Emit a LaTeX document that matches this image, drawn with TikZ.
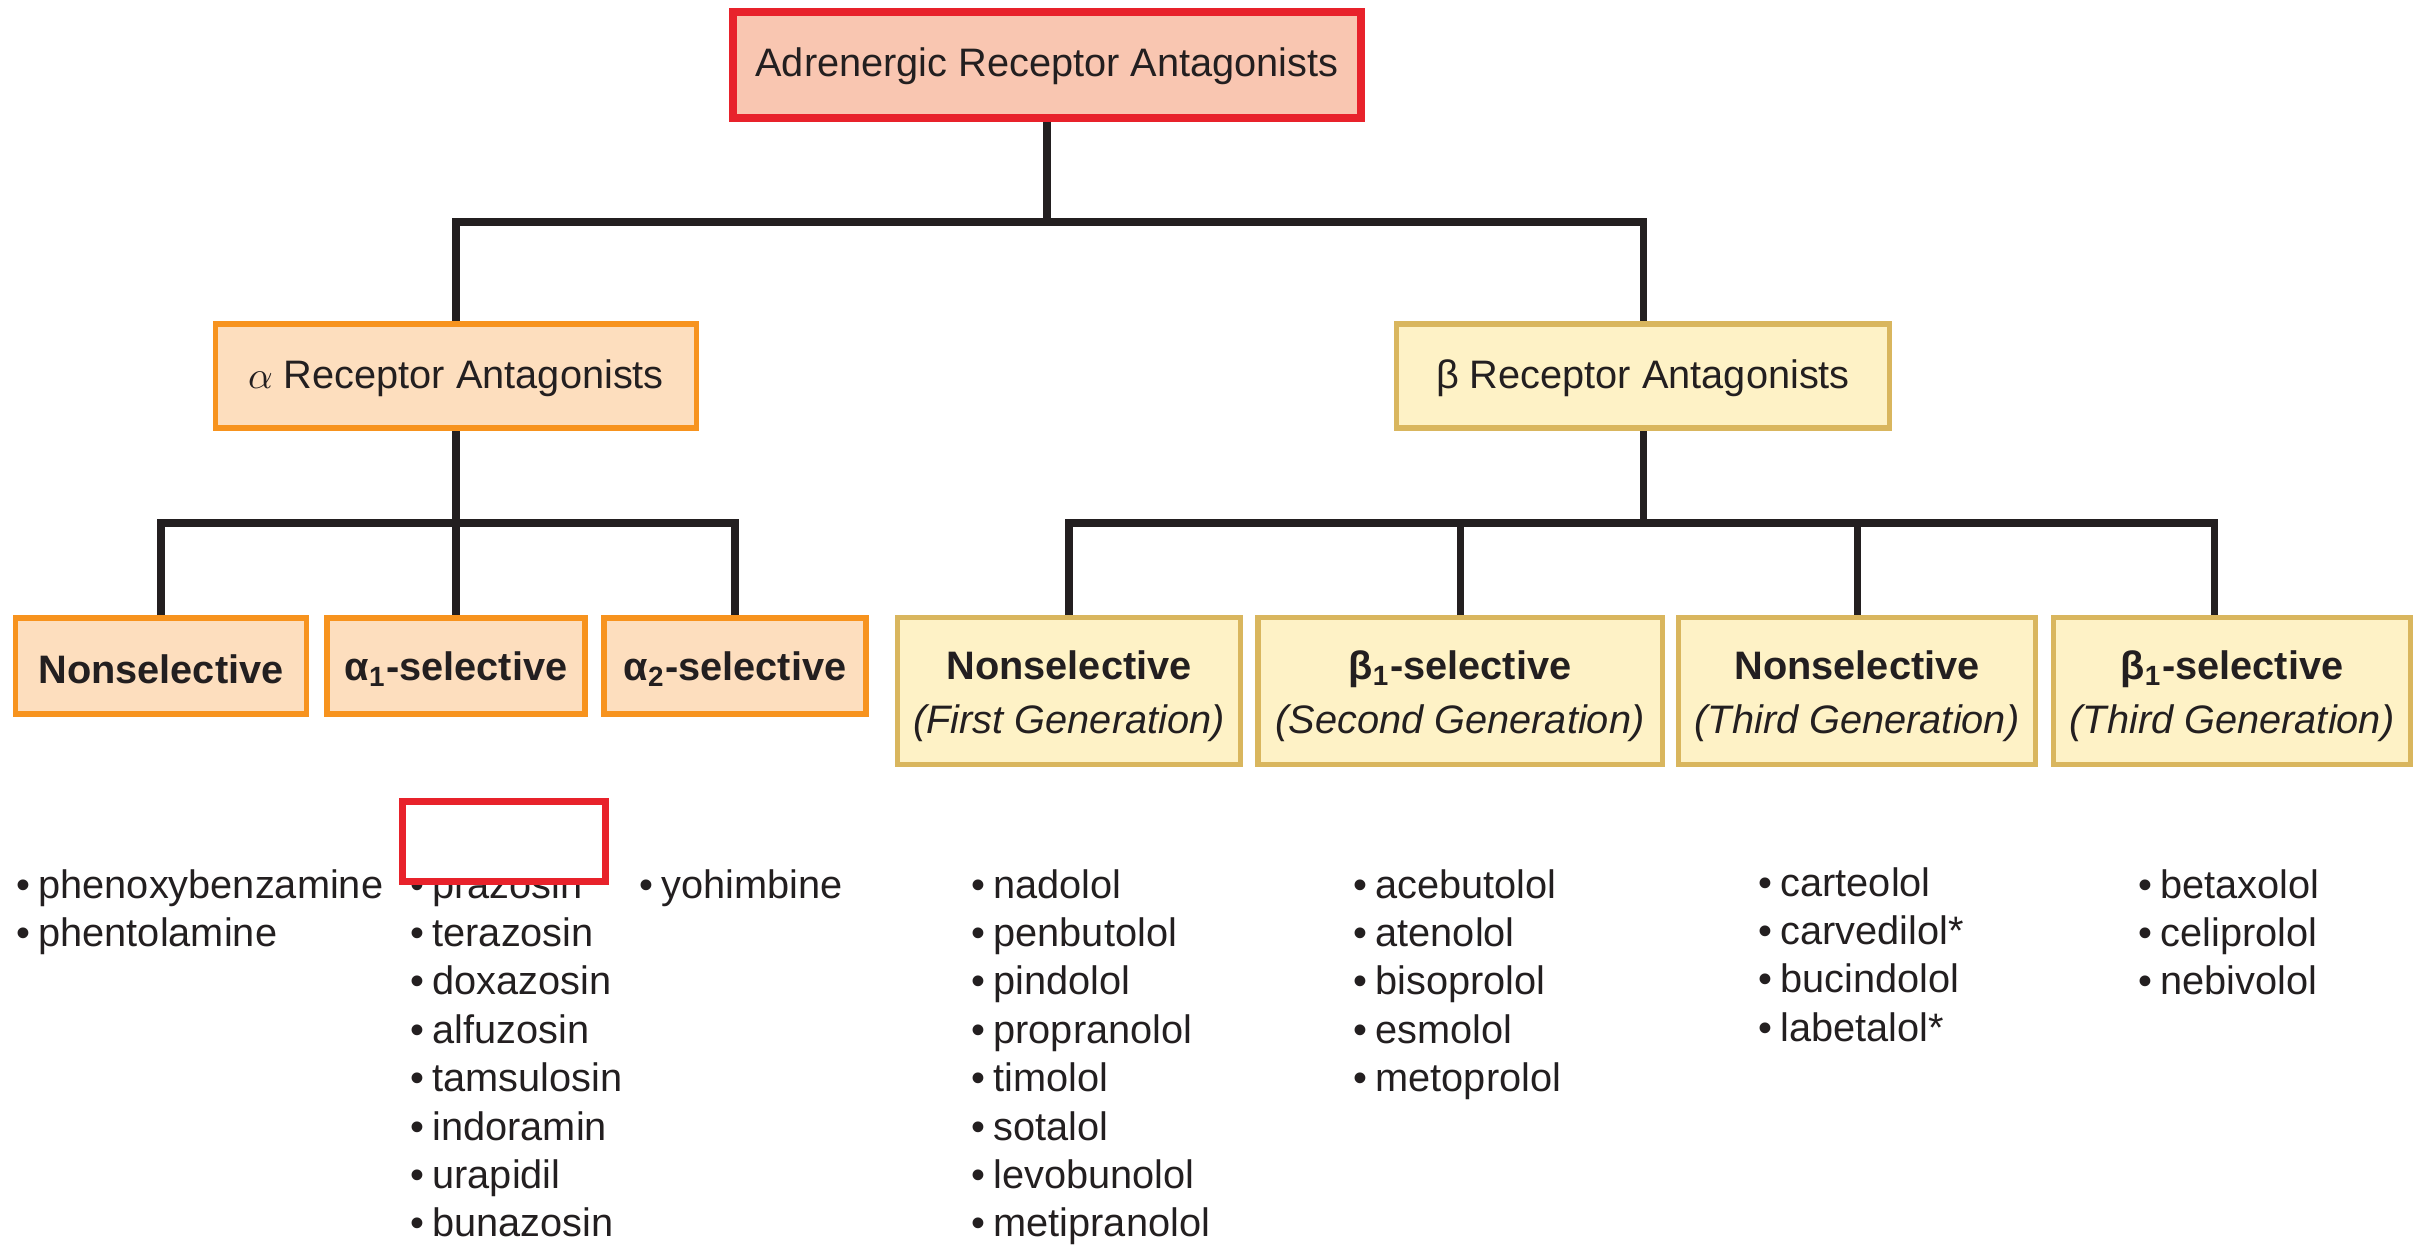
\documentclass[tikz,border=0pt]{standalone}
\usepackage{fontspec}
\setmainfont{Liberation Sans}
\usetikzlibrary{backgrounds,calc}
\definecolor{txt}{HTML}{231F20}
\definecolor{topfill}{HTML}{F9C6B1}
\definecolor{topdraw}{HTML}{E8222B}
\definecolor{afill}{HTML}{FDDEBE}
\definecolor{adraw}{HTML}{F7931E}
\definecolor{bfill}{HTML}{FEF2C6}
\definecolor{bdraw}{HTML}{D9B65E}
\definecolor{linecol}{HTML}{231F20}
\begin{document}
\begin{tikzpicture}[x=0.01cm,y=-0.01cm,
  box/.style={rectangle, inner sep=0pt, line width=1.5pt},
  abox/.style={box, fill=afill, draw=adraw},
  bbox/.style={box, fill=bfill, draw=bdraw},
  boxtext/.style={inner sep=0pt, text=txt, align=center, font=\fontsize{11.3}{15.4}\selectfont},
  link/.style={line width=2pt, draw=linecol},
  item/.style={anchor=base west, inner sep=0pt, text=txt, font=\fontsize{11.3}{13}\selectfont}]
\useasboundingbox (0,0) rectangle (2433,1246);

% boxes
\node[box, fill=topfill, draw=topdraw, line width=2.3pt, minimum width=62.7mm, minimum height=10.6mm] (top) at (1047,65) {};
\node[abox, minimum width=48.1mm, minimum height=10.4mm] (alpha) at (456,376) {};
\node[bbox, minimum width=49.3mm, minimum height=10.4mm] (beta) at (1643,376) {};
\node[abox, minimum width=29.1mm, minimum height=9.6mm] (a1) at (161,666) {};
\node[abox, minimum width=25.8mm, minimum height=9.6mm] (a2) at (456,666) {};
\node[abox, minimum width=26.2mm, minimum height=9.6mm] (a3) at (735,666) {};
\node[bbox, minimum width=34.3mm, minimum height=14.7mm] (b1) at (1069,691) {};
\node[bbox, minimum width=40.4mm, minimum height=14.7mm] (b2) at (1460,691) {};
\node[bbox, minimum width=35.7mm, minimum height=14.7mm] (b3) at (1857,691) {};
\node[bbox, minimum width=35.7mm, minimum height=14.7mm] (b4) at (2232,691) {};

% box texts
\node[boxtext] (topt) at ($(top)+(0,1)$) {Adrenergic Receptor Antagonists};
\node[boxtext] (alphat) at ($(alpha)+(0,2)$) {$\alpha$ Receptor Antagonists};
\node[boxtext] (betat) at ($(beta)+(0,2)$) {β Receptor Antagonists};
\node[boxtext] (a1t) at ($(a1)+(0,3)$) {\textbf{Nonselective}};
\node[boxtext] (a2t) at ($(a2)+(0,3)$) {\textbf{α\textsubscript{1}-selective}};
\node[boxtext] (a3t) at ($(a3)+(0,3)$) {\textbf{α\textsubscript{2}-selective}};
\node[boxtext] (b1t) at ($(b1)+(0,5)$) {\textbf{Nonselective}\\\textit{(First Generation)}};
\node[boxtext] (b2t) at ($(b2)+(0,5)$) {\textbf{β\textsubscript{1}-selective}\\\textit{(Second Generation)}};
\node[boxtext] (b3t) at ($(b3)+(0,5)$) {\textbf{Nonselective}\\\textit{(Third Generation)}};
\node[boxtext] (b4t) at ($(b4)+(0,5)$) {\textbf{β\textsubscript{1}-selective}\\\textit{(Third Generation)}};

% connectors
\begin{scope}[on background layer]
  \coordinate (tbus) at (1047,222);
  \draw[link] (top.south) -- (tbus);
  \draw[link] (alpha.north) |- (tbus) -| (beta.north);
  \coordinate (abus) at (456,523);
  \draw[link] (alpha.south) -- (abus);
  \draw[link] (a1.north) |- (abus) -| (a3.north);
  \draw[link] (a2.north) -- (abus);
  \coordinate (bbus) at (1643,523);
  \coordinate (b4top) at ($(b4.north)+(-18,0)$);
  \draw[link] (beta.south) -- (bbus);
  \draw[link] (b1.north) |- (bbus) -| (b4top);
  \draw[link] (b2.north) -- (b2.north |- bbus);
  \draw[link] (b3.north) -- (b3.north |- bbus);
\end{scope}

% drug lists
\foreach \drug [count=\i from 0] in {phenoxybenzamine, phentolamine}
  \node[item] (la-\i) at (16,{898+48.4*\i}) {\textbullet\hspace{0.2em}\drug};
\foreach \drug [count=\i from 0] in {prazosin, terazosin, doxazosin, alfuzosin, tamsulosin, indoramin, urapidil, bunazosin}
  \node[item] (lb-\i) at (410,{898+48.4*\i}) {\textbullet\hspace{0.2em}\drug};
\foreach \drug [count=\i from 0] in {yohimbine}
  \node[item] (lc-\i) at (639,{898+48.4*\i}) {\textbullet\hspace{0.2em}\drug};
\foreach \drug [count=\i from 0] in {nadolol, penbutolol, pindolol, propranolol, timolol, sotalol, levobunolol, metipranolol}
  \node[item] (ld-\i) at (971,{898+48.4*\i}) {\textbullet\hspace{0.2em}\drug};
\foreach \drug [count=\i from 0] in {acebutolol, atenolol, bisoprolol, esmolol, metoprolol}
  \node[item] (le-\i) at (1353,{898+48.4*\i}) {\textbullet\hspace{0.2em}\drug};
\foreach \drug [count=\i from 0] in {carteolol, carvedilol*, bucindolol, labetalol*}
  \node[item] (lf-\i) at (1758,{896+48.4*\i}) {\textbullet\hspace{0.2em}\drug};
\foreach \drug [count=\i from 0] in {betaxolol, celiprolol, nebivolol}
  \node[item] (lg-\i) at (2138,{898+48.4*\i}) {\textbullet\hspace{0.2em}\drug};

% red annotation box
\node[draw=topdraw, fill=white, line width=2pt, minimum width=20.2mm, minimum height=7.9mm, inner sep=0pt] (mark) at (504,841.5) {};
\end{tikzpicture}
\end{document}
